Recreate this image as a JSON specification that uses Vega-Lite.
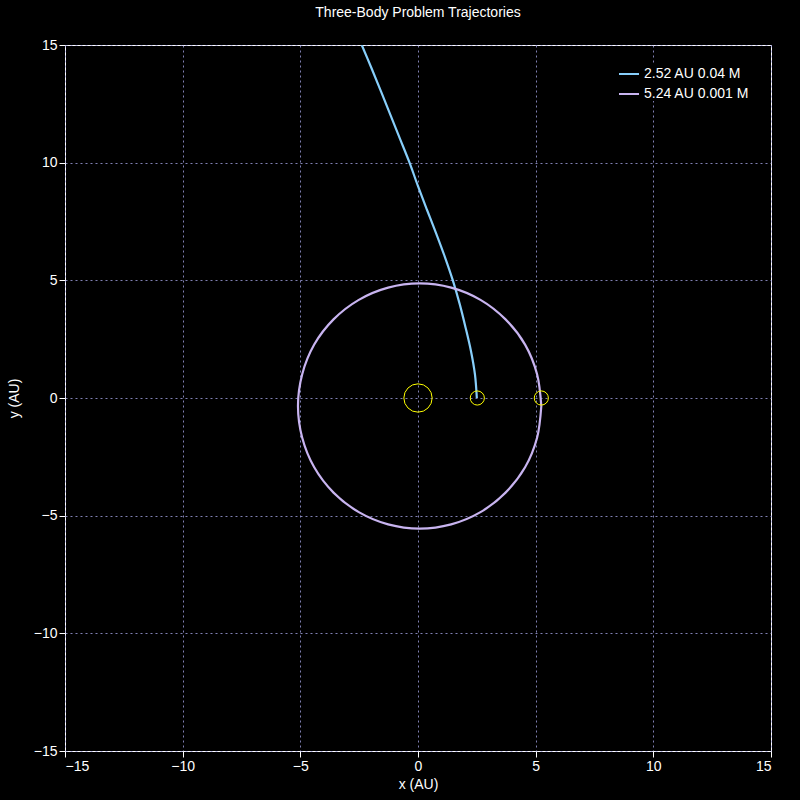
{
  "$schema": "https://vega.github.io/schema/vega-lite/v6.json",
  "width": 706,
  "height": 706,
  "autosize": "none",
  "padding": {"left": 65, "top": 45, "right": 29, "bottom": 49},
  "background": "#000000",
  "title": {"text": "Three-Body Problem Trajectories", "color": "white", "font": "Liberation Sans", "fontSize": 14, "fontWeight": "normal", "offset": 18},
  "config": {
    "view": {"stroke": "white", "strokeWidth": 1},
    "font": "Liberation Sans",
    "axis": {
      "domain": false, "labelColor": "white", "titleColor": "white", "labelFontSize": 14, "titleFontSize": 14, "titleFontWeight": "normal",
      "gridColor": "#a0a0e0", "gridDash": [2, 3], "gridOpacity": 0.8, "tickColor": "white", "tickSize": 6
    }
  },
  "datasets": {
    "orbits": [
      {"s": "2.52 AU  0.04 M", "t": 0, "x": 2.5, "y": 0},
      {"s": "2.52 AU  0.04 M", "t": 1, "x": 2.42, "y": 1},
      {"s": "2.52 AU  0.04 M", "t": 2, "x": 2.25, "y": 2},
      {"s": "2.52 AU  0.04 M", "t": 3, "x": 2.02, "y": 3},
      {"s": "2.52 AU  0.04 M", "t": 4, "x": 1.77, "y": 4},
      {"s": "2.52 AU  0.04 M", "t": 5, "x": 1.48, "y": 5},
      {"s": "2.52 AU  0.04 M", "t": 6, "x": 1.14, "y": 6},
      {"s": "2.52 AU  0.04 M", "t": 7, "x": 0.77, "y": 7},
      {"s": "2.52 AU  0.04 M", "t": 8, "x": 0.38, "y": 8},
      {"s": "2.52 AU  0.04 M", "t": 9, "x": 0.0, "y": 9},
      {"s": "2.52 AU  0.04 M", "t": 10, "x": -0.36, "y": 10},
      {"s": "2.52 AU  0.04 M", "t": 11, "x": -0.76, "y": 11},
      {"s": "2.52 AU  0.04 M", "t": 12, "x": -1.16, "y": 12},
      {"s": "2.52 AU  0.04 M", "t": 13, "x": -1.56, "y": 13},
      {"s": "2.52 AU  0.04 M", "t": 14, "x": -1.97, "y": 14},
      {"s": "2.52 AU  0.04 M", "t": 15, "x": -2.39, "y": 15},
      {"s": "5.24 AU  0.001 M", "t": 0, "x": 5.24, "y": -0.34},
      {"s": "5.24 AU  0.001 M", "t": 1, "x": 5.06, "y": 1.01},
      {"s": "5.24 AU  0.001 M", "t": 2, "x": 4.55, "y": 2.27},
      {"s": "5.24 AU  0.001 M", "t": 3, "x": 3.72, "y": 3.34},
      {"s": "5.24 AU  0.001 M", "t": 4, "x": 2.655, "y": 4.17},
      {"s": "5.24 AU  0.001 M", "t": 5, "x": 1.41, "y": 4.69},
      {"s": "5.24 AU  0.001 M", "t": 6, "x": 0.07, "y": 4.87},
      {"s": "5.24 AU  0.001 M", "t": 7, "x": -1.27, "y": 4.69},
      {"s": "5.24 AU  0.001 M", "t": 8, "x": -2.515, "y": 4.17},
      {"s": "5.24 AU  0.001 M", "t": 9, "x": -3.59, "y": 3.34},
      {"s": "5.24 AU  0.001 M", "t": 10, "x": -4.41, "y": 2.27},
      {"s": "5.24 AU  0.001 M", "t": 11, "x": -4.92, "y": 1.01},
      {"s": "5.24 AU  0.001 M", "t": 12, "x": -5.1, "y": -0.34},
      {"s": "5.24 AU  0.001 M", "t": 13, "x": -4.92, "y": -1.69},
      {"s": "5.24 AU  0.001 M", "t": 14, "x": -4.41, "y": -2.945},
      {"s": "5.24 AU  0.001 M", "t": 15, "x": -3.59, "y": -4.02},
      {"s": "5.24 AU  0.001 M", "t": 16, "x": -2.515, "y": -4.85},
      {"s": "5.24 AU  0.001 M", "t": 17, "x": -1.27, "y": -5.37},
      {"s": "5.24 AU  0.001 M", "t": 18, "x": 0.07, "y": -5.55},
      {"s": "5.24 AU  0.001 M", "t": 19, "x": 1.41, "y": -5.37},
      {"s": "5.24 AU  0.001 M", "t": 20, "x": 2.655, "y": -4.85},
      {"s": "5.24 AU  0.001 M", "t": 21, "x": 3.72, "y": -4.02},
      {"s": "5.24 AU  0.001 M", "t": 22, "x": 4.55, "y": -2.945},
      {"s": "5.24 AU  0.001 M", "t": 23, "x": 5.06, "y": -1.69},
      {"s": "5.24 AU  0.001 M", "t": 24, "x": 5.24, "y": -0.34}
    ],
    "bodies": [
      {"x": 0, "y": 0, "size": 800},
      {"x": 2.52, "y": 0, "size": 200},
      {"x": 5.24, "y": 0, "size": 200}
    ]
  },
  "layer": [
    {
      "data": {"name": "orbits"},
      "mark": {"type": "line", "interpolate": "cardinal", "strokeWidth": 2.2, "clip": true},
      "encoding": {
        "x": {"field": "x", "type": "quantitative", "scale": {"domain": [-15, 15], "nice": false}, "axis": {"values": [-15, -10, -5, 0, 5, 10, 15], "title": "x (AU)", "titlePadding": 4}},
        "y": {"field": "y", "type": "quantitative", "scale": {"domain": [-15, 15], "nice": false}, "axis": {"values": [-15, -10, -5, 0, 5, 10, 15], "title": "y (AU)", "titlePadding": 12}},
        "order": {"field": "t", "type": "quantitative"},
        "color": {
          "field": "s", "type": "nominal",
          "scale": {"domain": ["2.52 AU  0.04 M", "5.24 AU  0.001 M"], "range": ["#87cefa", "#c8b4f0"]},
          "legend": {"title": null, "orient": "top-right", "symbolType": "stroke", "symbolStrokeWidth": 2, "symbolSize": 400, "labelColor": "white", "labelFontSize": 14, "fillColor": "black"}
        }
      }
    },
    {
      "data": {"name": "bodies"},
      "mark": {"type": "point", "shape": "circle", "filled": false, "color": "yellow", "strokeWidth": 1, "opacity": 1},
      "encoding": {
        "x": {"field": "x", "type": "quantitative"},
        "y": {"field": "y", "type": "quantitative"},
        "size": {"field": "size", "type": "quantitative", "scale": null, "legend": null}
      }
    }
  ]
}
